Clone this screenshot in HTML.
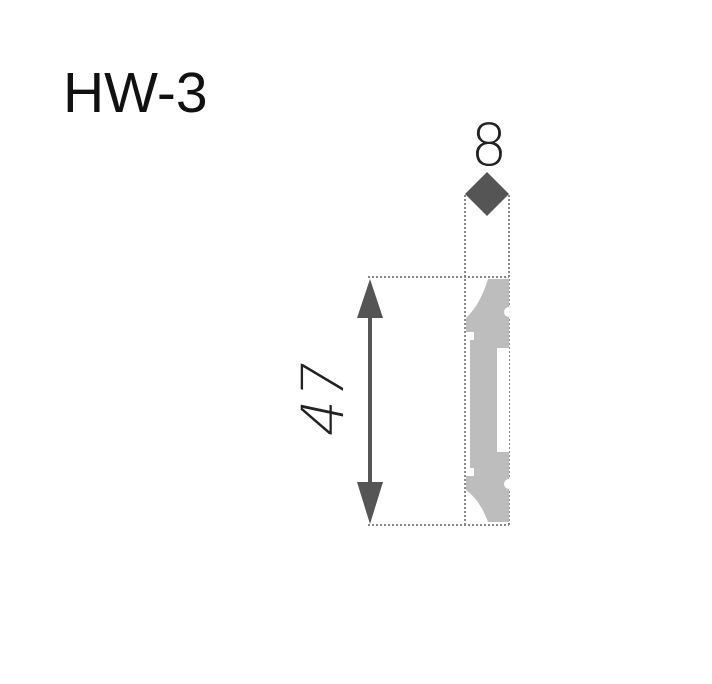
<!DOCTYPE html>
<html><head><style>body{margin:0;background:#fff;}svg{display:block}</style></head>
<body>
<svg width="712" height="684" viewBox="0 0 712 684" xmlns="http://www.w3.org/2000/svg">
<text x="63" y="112" font-family="Liberation Sans, sans-serif" font-size="57" fill="#111">HW-3</text>
<text x="489" y="165" text-anchor="middle" font-family="DejaVu Sans, sans-serif" font-size="58" font-weight="200" fill="#222">8</text>
<polygon points="487,172 509,194 487,216 465,194" fill="#555"/>
<g stroke="#888" stroke-width="2" stroke-dasharray="2,2" fill="none">
<line x1="465" y1="195" x2="465" y2="525"/>
<line x1="509" y1="195" x2="509" y2="525"/>
<line x1="368" y1="277" x2="509" y2="277"/>
<line x1="368" y1="525" x2="509" y2="525"/>
</g>
<path d="M488,279 L509,279 L509,522 L488,522 Q480,500 466,490 L466,476 L474,476 L474,468 L470,468 L470,340 L474,340 L474,332 L466,332 L466,318 Q480,305 488,279 Z" fill="#bdbdbd"/>
<rect x="497" y="348" width="12" height="104" fill="#fff"/>
<circle cx="509" cy="312" r="5" fill="#fff"/>
<circle cx="509" cy="484" r="5" fill="#fff"/>
<line x1="370" y1="300" x2="370" y2="505" stroke="#555" stroke-width="4"/>
<polygon points="370,279 383,318 357,318" fill="#555"/>
<polygon points="370,524 383,482 357,482" fill="#555"/>
<text x="0" y="0" transform="translate(343,403) rotate(-90) skewX(-12)" text-anchor="middle" font-family="DejaVu Sans, sans-serif" font-size="58" font-weight="200" fill="#222">47</text>
</svg>
</body></html>
